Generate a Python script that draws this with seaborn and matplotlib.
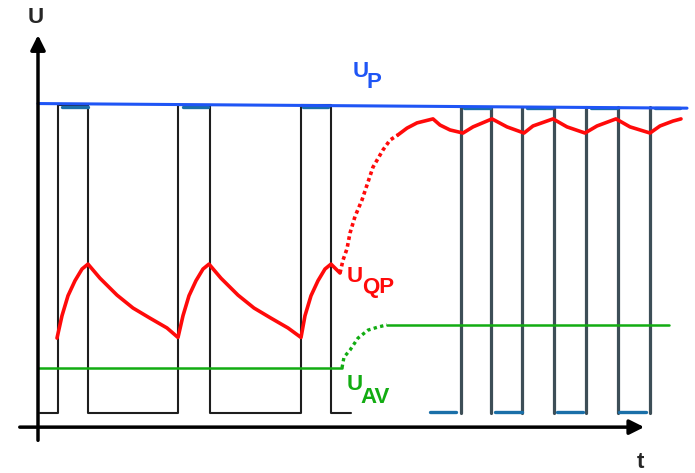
import pandas as pd
import seaborn as sns
import matplotlib.pyplot as plt

sns.set_theme(style="white")
plt.rcParams['font.family'] = ['Liberation Sans', 'DejaVu Sans']

# t in ms, U in % of the pulse amplitude (schematic)

# slow pulse train (left part)
slow_t = [0.2, 2.0, 2.0, 5.0, 5.0, 14.0, 14.0, 17.2, 17.2, 26.3, 26.3, 29.3, 29.3, 31.3]
slow_u = [0, 0, 100.2, 100.2, 0, 0, 100.2, 100.2, 0, 0, 100.2, 100.2, 0, 0]
slow_top_start = [2.4, 14.5, 26.5]
slow_top_end = [5.0, 17.0, 29.0]

# fast pulse train (right part)
fast_edges = [42.3, 45.3, 48.4, 51.6, 54.8, 58.0, 61.2]
fast_top_start = [42.6, 48.9, 55.3, 61.7]
fast_top_end = [45.2, 51.4, 57.9, 64.2]
fast_low_start = [39.2, 45.7, 51.9, 58.1]
fast_low_end = [41.8, 48.4, 54.5, 60.8]

# peak detector
peak_t = [0.0, 64.9]
peak_u = [100.8, 99.3]

# quasi-peak detector
qp_t = [1.9, 2.4, 3.0, 3.7, 4.4, 5.0, 6.2, 7.9, 9.5, 11.2, 12.9, 14.0,
        14.5, 15.1, 15.8, 16.5, 17.1, 18.3, 20.0, 21.6, 23.3, 25.0, 26.3,
        26.7, 27.3, 28.0, 28.7, 29.3, 30.2]
qp_u = [24.4, 31.7, 38.2, 43.1, 46.9, 48.5, 43.9, 38.4, 34.2, 30.9, 27.7, 24.6,
        31.7, 38.2, 43.1, 46.9, 48.5, 43.9, 38.4, 34.2, 30.9, 27.7, 24.6,
        31.7, 38.2, 43.1, 46.9, 48.5, 45.6]
qp_rise_t = [30.2, 30.5, 30.9, 31.2, 31.7, 32.4, 33.5, 34.5, 35.2, 36.0]
qp_rise_u = [45.6, 49.8, 53.5, 58.6, 64.0, 69.4, 80.1, 85.7, 88.9, 90.6]
qp_fast_t = [36.0, 36.9, 37.9, 39.5, 40.2, 41.2, 42.5, 43.5, 45.4, 46.9, 48.6,
             49.5, 51.5, 52.9, 54.7, 55.9, 57.8, 59.2, 61.2, 62.2, 63.5, 64.3]
qp_fast_u = [90.6, 92.8, 94.5, 95.8, 93.8, 92.2, 91.2, 93.2, 95.8, 93.2, 91.2,
             93.5, 95.8, 93.2, 91.2, 93.5, 95.8, 93.2, 91.2, 93.5, 95.1, 95.8]

# average detector
av_t = [0.0, 30.4]
av_u = [14.7, 14.7]
av_rise_t = [30.4, 30.6, 31.2, 32.0, 33.0, 34.0, 34.9]
av_rise_u = [14.7, 18.2, 20.5, 24.4, 27.0, 28.0, 28.7]
av_fast_t = [34.9, 63.1]
av_fast_u = [28.7, 28.7]


def segments(starts, ends, u0, u1):
    rows = []
    for i, (a, b) in enumerate(zip(starts, ends)):
        rows.append((i, a, u0))
        rows.append((i, b, u1))
    return pd.DataFrame(rows, columns=["seg", "t", "U"])


def line(ax, t, u, **kw):
    sns.lineplot(x=t, y=u, sort=False, estimator=None, legend=False, ax=ax, **kw)


def seglines(ax, df, **kw):
    sns.lineplot(data=df, x="t", y="U", units="seg", sort=False, estimator=None,
                 legend=False, ax=ax, **kw)


fig = plt.figure(figsize=(6.95, 4.73), dpi=100)
ax = fig.add_axes([0, 0, 1, 1])

black = "#1e1e1e"
gray = "#3d4e57"
teal = "#1a6fa8"
blue = "#1f55f5"
red = "#ff0a0a"
green = "#12ac12"

line(ax, slow_t, slow_u, color=black, linewidth=1.5)
seglines(ax, segments(slow_top_start, slow_top_end, 99.6, 99.6), color=teal, linewidth=2.4)

seglines(ax, segments(fast_edges, fast_edges, 0, 99.6), color=gray, linewidth=2.3)
seglines(ax, segments(fast_top_start, fast_top_end, 99.4, 99.4), color=teal, linewidth=2.4)
seglines(ax, segments(fast_low_start, fast_low_end, 0.3, 0.3), color=teal, linewidth=2.4)

line(ax, peak_t, peak_u, color=blue, linewidth=2.2)

line(ax, av_t, av_u, color=green, linewidth=1.8)
line(ax, av_rise_t, av_rise_u, color=green, linewidth=2.4, linestyle=(0, (1.0, 1.0)))
line(ax, av_fast_t, av_fast_u, color=green, linewidth=1.8)

line(ax, qp_t, qp_u, color=red, linewidth=2.6)
line(ax, qp_rise_t, qp_rise_u, color=red, linewidth=2.6, linestyle=(0, (1.0, 0.9)))
line(ax, qp_fast_t, qp_fast_u, color=red, linewidth=2.6)

# axes arrows
ax.annotate("", xy=(0, 124), xytext=(0, -9.8),
            arrowprops=dict(arrowstyle="-|>", lw=2.5, color="black", mutation_scale=22))
ax.annotate("", xy=(60.9, -4.6), xytext=(-2.1, -4.6),
            arrowprops=dict(arrowstyle="-|>", lw=2.5, color="black", mutation_scale=22))

fs = 16
ax.text(-0.2, 127.2, "U", fontsize=fs, fontweight="bold", ha="center", va="baseline")
ax.text(60.2, -17.9, "t", fontsize=fs, fontweight="bold", ha="center", va="baseline")

ax.text(31.5, 109.4, "U", fontsize=fs, fontweight="bold", color=blue, va="baseline")
ax.text(32.9, 105.9, "P", fontsize=fs, fontweight="bold", color=blue, va="baseline")
ax.text(30.9, 42.7, "U", fontsize=fs, fontweight="bold", color=red, va="baseline")
ax.text(32.4, 39.1, "QP", fontsize=fs, fontweight="bold", color=red, va="baseline")
ax.text(30.9, 7.5, "U", fontsize=fs, fontweight="bold", color=green, va="baseline")
ax.text(32.2, 3.3, "AV", fontsize=fs, fontweight="bold", color=green, va="baseline")

ax.set_xlim(-3.8, 65.7)
ax.set_ylim(-19.54, 134.53)
ax.axis("off")

fig.savefig("out.png", dpi=100)
